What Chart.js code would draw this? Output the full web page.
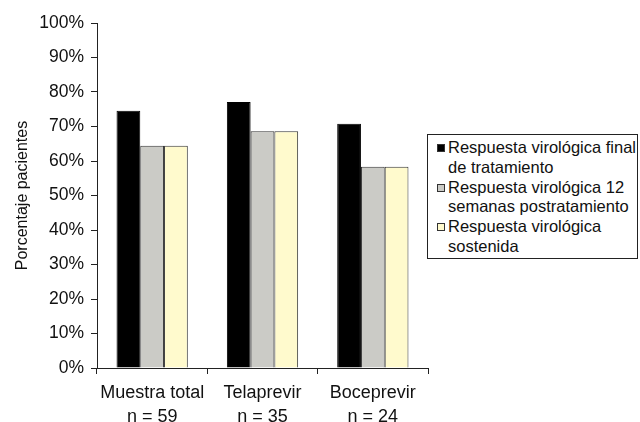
<!DOCTYPE html>
<html>
<head>
<meta charset="utf-8">
<script src="https://cdn.jsdelivr.net/npm/chart.js@4.4.0/dist/chart.umd.min.js"></script>
<style>
  html, body { margin: 0; padding: 0; background: #fff; }
  #wrap { position: relative; width: 640px; height: 422px; }
  #legend {
    position: absolute; left: 427px; top: 134px; width: 211px;
    border: 1px solid #222; box-sizing: border-box; padding: 3px 0 1px 0;
    font-family: 'Liberation Sans', Arial, sans-serif; font-size: 16.5px;
    line-height: 19.8px; color: #111; white-space: nowrap; background: #fff;
  }
  .item { position: relative; padding-left: 20px; }
  .sw { position: absolute; left: 9px; top: 6px; width: 6px; height: 6px; border: 1px solid #333; }
</style>
</head>
<body>
<div id="wrap">
  <canvas id="chart" width="640" height="422"></canvas>
  <div id="legend"></div>
</div>
<script>
// categorias (duas linhas cada)
const categories = [['Muestra total', 'n = 59'], ['Telaprevir', 'n = 35'], ['Boceprevir', 'n = 24']];
// nomes das series (quebrados como no original)
const seriesNames = [
  ['Respuesta virológica final', 'de tratamiento'],
  ['Respuesta virológica 12', 'semanas postratamiento'],
  ['Respuesta virológica', 'sostenida']
];
const seriesColors = ['#000000', '#cbcbc6', '#fffacd'];
// valores em %
const respFinal = [74.6, 77.1, 70.8];
const resp12Semanas = [64.4, 68.6, 58.3];
const respSostenida = [64.4, 68.6, 58.3];
const yTicks = [0, 10, 20, 30, 40, 50, 60, 70, 80, 90, 100];

const seriesValues = [respFinal, resp12Semanas, respSostenida];
const font = "'Liberation Sans', Arial, sans-serif";

const datasets = seriesNames.map((name, i) => ({
  label: name.join(' '),
  data: seriesValues[i],
  backgroundColor: seriesColors[i],
  borderColor: i === 0 ? '#000' : '#333',
  borderWidth: 1,
  categoryPercentage: 0.646,
  barPercentage: 1
}));

const chart = new Chart(document.getElementById('chart'), {
  type: 'bar',
  data: { labels: categories, datasets: datasets },
  options: {
    responsive: false,
    animation: false,
    layout: { padding: { top: 23, right: 212, bottom: 0, left: 0 } },
    plugins: { legend: { display: false }, tooltip: { enabled: false } },
    scales: {
      x: {
        grid: { drawOnChartArea: false, drawTicks: true, tickLength: 6, color: '#222', offset: true },
        border: { color: '#222', width: 1 },
        ticks: { color: '#111', font: { family: font, size: 18, lineHeight: 1.28 }, padding: 8, maxRotation: 0 },
        afterFit: (scale) => { scale.height = 54; }
      },
      y: {
        min: 0,
        max: 100,
        afterBuildTicks: (scale) => { scale.ticks = yTicks.map(v => ({ value: v })); },
        grid: { drawOnChartArea: false, drawTicks: true, tickLength: 6, color: '#222' },
        border: { color: '#222', width: 1 },
        ticks: { color: '#111', font: { family: font, size: 17.5 }, padding: 7, callback: v => v + '%' },
        title: {
          display: true, text: 'Porcentaje pacientes', color: '#111',
          font: { family: font, size: 16 }, padding: { top: 13, bottom: 0 }
        },
        afterFit: (scale) => { scale.width = 97; }
      }
    }
  }
});

// legenda em HTML a partir dos datasets
const legend = document.getElementById('legend');
chart.data.datasets.forEach((ds, i) => {
  const item = document.createElement('div');
  item.className = 'item';
  item.innerHTML = `<span class="sw" style="background:${ds.backgroundColor}"></span>${seriesNames[i].join('<br>')}`;
  legend.appendChild(item);
});
</script>
</body>
</html>
